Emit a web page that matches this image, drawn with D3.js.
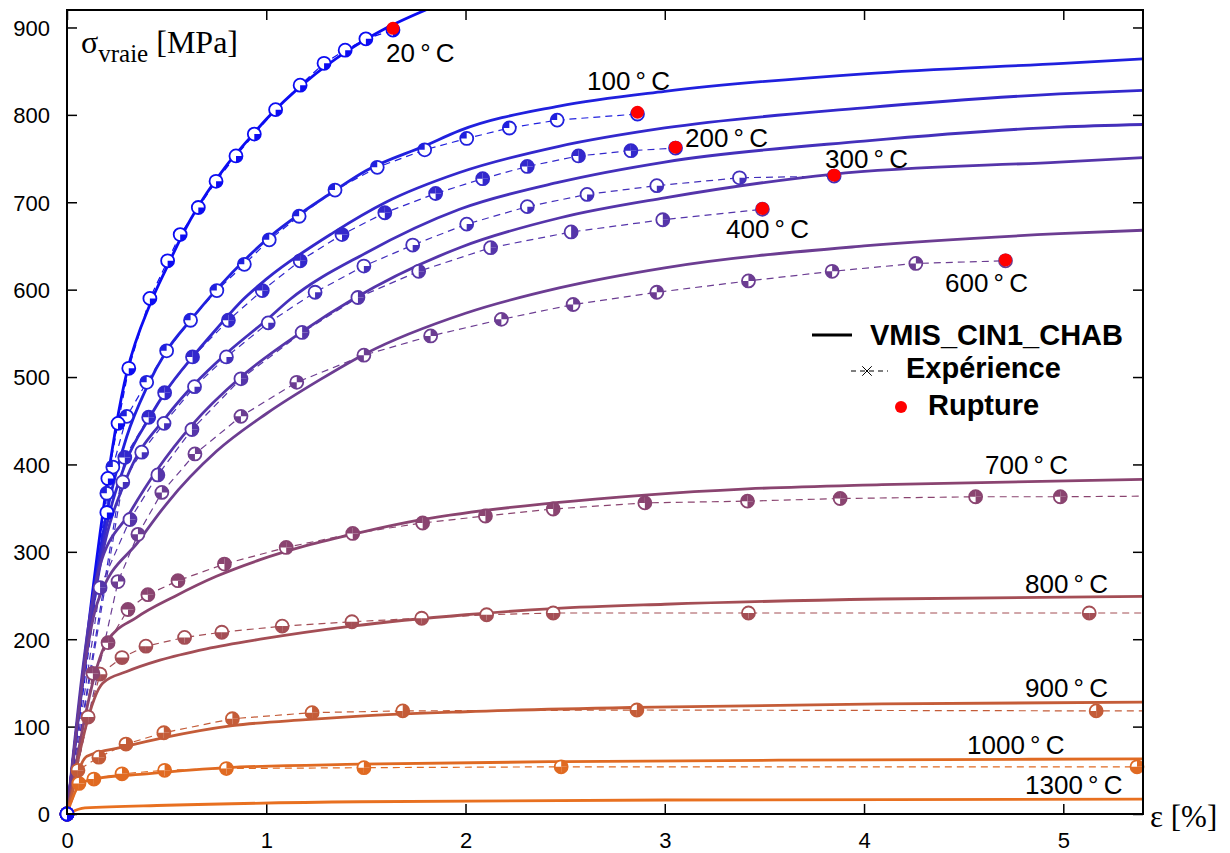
<!DOCTYPE html>
<html><head><meta charset="utf-8">
<script src="https://cdn.jsdelivr.net/npm/d3@7"></script>
<style>
html,body{margin:0;padding:0;background:#fff;}
svg{display:block;}
</style></head>
<body>
<svg id="chart" width="1230" height="853"></svg>
<script>
// ---------- DATA ----------
const temperatures = ["20", "100", "200", "300", "400", "600", "700", "800", "900", "1000", "1300"];
const xTicks = [0, 1, 2, 3, 4, 5];
const yTicks = [0, 100, 200, 300, 400, 500, 600, 700, 800, 900];
const legendLabels = ["VMIS_CIN1_CHAB", "Expérience", "Rupture"];

// model curves (VMIS_CIN1_CHAB) [strain %, stress MPa]
const model20 = [[0,0],[0.30,505],[0.42,585],[0.5,625],[0.6,672],[0.7,710],[0.8,742],[0.9,769],[1.0,795],[1.2,838],[1.4,872],[1.6,899],[1.82,922]];
const model100 = [[0,0],[0.2,345],[0.3,432],[0.4,488],[0.5,530],[0.62,565],[0.75,600],[1.0,657],[1.335,712],[1.5,736],[1.8,765],[1.97,782],[2.47,810],[3.0,827],[4.0,847],[5.0,859],[5.4,864]];
const model200 = [[0,0],[0.18,310],[0.3,405],[0.41,452],[0.5,485],[0.63,523],[0.75,555],[0.885,589],[1.0,612],[1.335,665],[1.6,700],[1.97,734],[2.47,764],[3.0,785],[4.0,808],[4.98,824],[5.4,828]];
const model300 = [[0,0],[0.18,300],[0.3,385],[0.5,455],[0.64,492],[0.8,527],[1.0,565],[1.12,589],[1.5,642],[1.97,692],[2.47,723],[3.0,746],[4.0,770],[4.98,786],[5.4,789]];
const model400 = [[0,0],[0.16,280],[0.316,345],[0.456,395],[0.627,445],[0.873,500],[1.18,552],[1.435,589],[1.97,648],[2.47,682],[3.0,705],[3.84,732],[4.98,746],[5.4,751]];
const model600 = [[0,0],[0.15,240],[0.366,314],[0.5,355],[0.75,415],[1.0,458],[1.27,497],[1.5,527],[2.0,573],[2.47,602],[3.0,625],[4.0,650],[4.98,664],[5.4,668]];
const model700 = [[0,0],[0.2,197],[0.35,225],[0.54,249],[0.75,272],[0.97,291],[1.2,307],[1.47,322],[1.785,337],[2.44,356],[2.9,365],[3.415,372],[4.09,377],[5.4,383]];
const model800 = [[0,0],[0.18,150],[0.3,163],[0.466,176],[0.7,189],[0.97,200],[1.43,215],[2.0,228],[2.44,235],[3.0,240],[4.09,246],[5.4,249]];
const model900 = [[0,0],[0.1,66],[0.29,77],[0.48,87],[0.83,101],[1.2,108],[1.47,112],[2.0,117],[2.86,122],[4.09,126],[5.4,128]];
const model1000 = [[0,0],[0.065,34],[0.13,40],[0.4,46],[0.8,53],[1.47,57],[2.5,60],[4.0,62],[5.4,63]];
const model1300 = [[0,0],[0.09,7],[0.5,10],[1.47,14],[3.0,16],[5.4,17]];

// experimental points [strain %, stress MPa]
const exp20 = [[0,0],[0.2,345],[0.205,384],[0.256,447],[0.31,510],[0.416,590],[0.505,633],[0.568,663],[0.659,694],[0.748,724],[0.848,753],[0.94,778],[1.047,806],[1.17,834],[1.29,859],[1.396,874],[1.5,887],[1.636,897]];
const exp100 = [[0,0],[0.2,367],[0.23,397],[0.30,455],[0.40,494],[0.50,530],[0.62,565],[0.752,599],[0.89,629],[1.015,657],[1.165,684],[1.345,714],[1.557,740],[1.795,760],[2.006,773],[2.22,785],[2.46,794],[2.863,801]];
const exp200 = [[0,0],[0.29,408],[0.41,454],[0.49,482],[0.63,523],[0.81,565],[0.98,599],[1.17,633],[1.38,663],[1.595,688],[1.85,710],[2.086,727],[2.31,741],[2.567,753],[2.83,759],[3.054,762]];
const exp300 = [[0,0],[0.28,380],[0.375,414],[0.487,447],[0.64,489],[0.80,523],[1.01,562],[1.245,597],[1.49,627],[1.735,651],[2.006,675],[2.31,695],[2.61,709],[2.96,719],[3.375,728],[3.85,730]];
const exp400 = [[0,0],[0.166,259],[0.316,337],[0.456,388],[0.627,440],[0.873,498],[1.18,551],[1.46,591],[1.765,621],[2.126,648],[2.53,666],[2.99,680],[3.49,692]];
const exp600 = [[0,0],[0.256,266],[0.356,320],[0.476,368],[0.642,412],[0.873,455],[1.153,494],[1.49,525],[1.825,547],[2.18,566],[2.54,583],[2.96,597],[3.42,610],[3.84,621],[4.26,630],[4.71,633]];
const exp700 = [[0,0],[0.13,161],[0.206,196],[0.306,234],[0.406,251],[0.557,267],[0.79,286],[1.10,305],[1.434,321],[1.785,333],[2.10,341],[2.44,349],[2.9,356],[3.415,358],[3.88,361],[4.56,363],[4.985,363],[5.6,364]];
const exp800 = [[0,0],[0.106,111],[0.166,160],[0.276,179],[0.396,192],[0.59,202],[0.777,208],[1.08,215],[1.43,220],[1.78,224],[2.106,228],[2.44,230],[3.42,230],[5.13,230],[5.6,230]];
const exp900 = [[0,0],[0.055,50],[0.16,65],[0.296,80],[0.486,93],[0.83,109],[1.23,116],[1.685,118],[2.86,119],[5.165,118],[5.6,118]];
const exp1000 = [[0,0],[0.06,35],[0.135,40],[0.276,46],[0.49,50],[0.8,52],[1.49,53],[2.48,54],[5.37,54],[5.6,54]];
const exp1300 = [[0,0]];

// rupture points [strain %, stress MPa]
const rupture = [[1.636,899],[2.863,803],[3.054,763],[3.85,731],[3.49,693],[4.71,634]];

// ---------- STYLE ----------
const colors = ["#0c0cf2","#2020de","#3328cc","#4430bb","#5535aa","#6c3d92","#8a4470","#a44e55","#c45c38","#e06a22","#e87020"];
const models = [model20, model100, model200, model300, model400, model600, model700, model800, model900, model1000, model1300];
const exps = [exp20, exp100, exp200, exp300, exp400, exp600, exp700, exp800, exp900, exp1000, exp1300];
// filled quadrants of marker: TR, BR, BL, TL
const patterns = [["BR"],["TL"],["TR","BR","TL"],["BR"],["TR","BR"],["TR","BL"],["TR","BR","TL"],["BR","BL"],["TR","BR","BL"],["TR","BR","BL"],["TR","BR","BL","TL"]];
const labelPos = [[386,62],[587,90],[685,147],[825,168],[726,238],[945,292],[985,474],[1025,593],[1025,697],[967,754],[1025,794]];

// ---------- CHART ----------
const svg = d3.select("#chart");
const L = 67, R = 1143, T = 10, B = 814;
const x = d3.scaleLinear().domain([0, 5.4]).range([L, R]);
const y = d3.scaleLinear().domain([0, 920]).range([B, T]);

svg.append("defs").append("clipPath").attr("id","clip")
  .append("rect").attr("x",L).attr("y",T).attr("width",R-L).attr("height",B-T);

const axisFont = "'Liberation Sans', Arial, Helvetica, sans-serif";

// axes
const gx = svg.append("g").attr("transform",`translate(0,${B})`)
  .call(d3.axisBottom(x).tickValues(xTicks).tickSizeInner(-10).tickSizeOuter(0).tickPadding(18).tickFormat(d3.format("d")));
const gy = svg.append("g").attr("transform",`translate(${L},0)`)
  .call(d3.axisLeft(y).tickValues(yTicks).tickSizeInner(-10).tickSizeOuter(0).tickPadding(17).tickFormat(d3.format("d")));
const gt = svg.append("g").attr("transform",`translate(0,${T})`)
  .call(d3.axisTop(x).tickValues(xTicks).tickSizeInner(-10).tickSizeOuter(0).tickFormat(""));
const gr = svg.append("g").attr("transform",`translate(${R},0)`)
  .call(d3.axisRight(y).tickValues(yTicks).tickSizeInner(-10).tickSizeOuter(0).tickFormat(""));
[gx,gy,gt,gr].forEach(g=>{
  g.select(".domain").remove();
  g.selectAll(".tick line").attr("stroke","#000").attr("stroke-width",1.5);
  g.selectAll(".tick text").attr("font-family",axisFont).attr("font-size",22).attr("fill","#000");
});
gy.selectAll(".tick text").attr("dy","0.36em");

// lines
const lineModel = d3.line().x(d=>x(d[0])).y(d=>y(d[1])).curve(d3.curveMonotoneX);
const lineExp = d3.line().x(d=>x(d[0])).y(d=>y(d[1]));
const plot = svg.append("g").attr("clip-path","url(#clip)");

exps.forEach((data,i)=>{
  if (data.length < 2) return;
  plot.append("path").attr("d", lineExp(data)).attr("fill","none")
    .attr("stroke", colors[i]).attr("stroke-width",1.2).attr("stroke-dasharray","7,5");
});
models.forEach((data,i)=>{
  plot.append("path").attr("d", lineModel(data)).attr("fill","none")
    .attr("stroke", colors[i]).attr("stroke-width",2.8);
});

// markers
const quad = {TR:[0,Math.PI/2],BR:[Math.PI/2,Math.PI],BL:[Math.PI,1.5*Math.PI],TL:[1.5*Math.PI,2*Math.PI]};
const rM = 6.5;
const arc = d3.arc().innerRadius(0).outerRadius(rM);
const mk = svg.append("g");
for (let i = exps.length-1; i >= 0; i--) {
  exps[i].filter(d=>d[0] <= 5.4).forEach(d=>{
    const g = mk.append("g").attr("transform",`translate(${x(d[0])},${y(d[1])})`);
    g.append("circle").attr("r",rM).attr("fill","#fff").attr("stroke","none");
    patterns[i].forEach(q=>{
      g.append("path").attr("d", arc({startAngle:quad[q][0], endAngle:quad[q][1]})).attr("fill", colors[i]);
    });
    g.append("circle").attr("r",rM).attr("fill","none").attr("stroke",colors[i]).attr("stroke-width",1.8);
  });
}
// rupture
mk.selectAll(".rup").data(rupture).enter().append("circle")
  .attr("cx",d=>x(d[0])).attr("cy",d=>y(d[1])).attr("r",6.5).attr("fill","#ff0000");

// frame
svg.append("rect").attr("x",L).attr("y",T).attr("width",R-L).attr("height",B-T)
  .attr("fill","none").attr("stroke","#000").attr("stroke-width",2);

// temperature labels
temperatures.forEach((t,i)=>{
  svg.append("text").attr("x",labelPos[i][0]).attr("y",labelPos[i][1])
    .attr("font-family",axisFont).attr("font-size",26).attr("fill","#000")
    .text(t + "\u2009°\u2009C");
});

// axis titles
const serif = "'Liberation Serif', 'Times New Roman', serif";
const yl = svg.append("text").attr("x",81).attr("y",53).attr("font-family",serif).attr("font-size",32).attr("fill","#000");
yl.append("tspan").text("σ");
yl.append("tspan").attr("font-size",25).attr("dy",9).text("vraie");
yl.append("tspan").attr("dy",-9).text(" [MPa]");
svg.append("text").attr("x",1150).attr("y",827).attr("font-family",serif).attr("font-size",31).attr("fill","#000").text("ε [%]");

// legend
const lg = svg.append("g");
lg.append("line").attr("x1",812).attr("x2",852).attr("y1",335).attr("y2",335).attr("stroke","#000").attr("stroke-width",3);
lg.append("line").attr("x1",851).attr("x2",888).attr("y1",371).attr("y2",371).attr("stroke","#000").attr("stroke-width",1.2).attr("stroke-dasharray","5,4");
lg.append("path").attr("d",d3.symbol(d3.symbolTimes, 60)()).attr("transform","translate(867,371)").attr("stroke","#000").attr("fill","#000");
lg.append("circle").attr("cx",901).attr("cy",407).attr("r",6).attr("fill","#ff0000");
const lgPos = [[870,345],[906,378],[928,415]];
legendLabels.forEach((s,i)=>{
  lg.append("text").attr("x",lgPos[i][0]).attr("y",lgPos[i][1]).attr("font-family",axisFont)
    .attr("font-weight","bold").attr("font-size",29).attr("fill","#000").text(s);
});
</script>
</body></html>
